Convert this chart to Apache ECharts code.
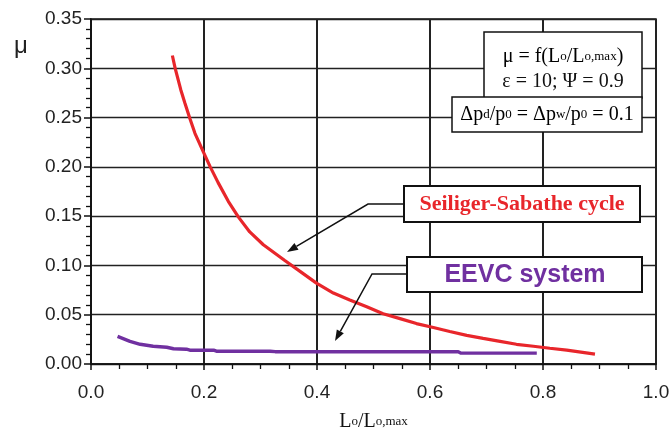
<!DOCTYPE html>
<html><head><meta charset="utf-8">
<script src="https://cdn.jsdelivr.net/npm/echarts@6/dist/echarts.min.js"></script>
<style>html,body{margin:0;padding:0;background:#fff}#c{width:672px;height:435px}</style>
</head><body><div id="c"></div>
<script>
// Seiliger-Sabathe cycle
const redX = [0.144,0.149,0.159,0.166,0.175,0.184,0.199,0.211,0.225,0.243,0.261,0.281,0.305,0.343,0.370,0.399,0.429,0.458,0.488,0.517,0.547,0.576,0.606,0.635,0.665,0.694,0.724,0.753,0.783,0.812,0.842,0.892];
const redY = [0.313,0.300,0.278,0.265,0.249,0.234,0.215,0.200,0.184,0.165,0.149,0.134,0.121,0.105,0.094,0.082,0.072,0.065,0.058,0.051,0.046,0.041,0.037,0.033,0.029,0.026,0.023,0.020,0.018,0.016,0.014,0.010];
// EEVC system
const purpleX = [0.047,0.069,0.087,0.110,0.134,0.146,0.169,0.175,0.217,0.222,0.317,0.326,0.650,0.655,0.789];
const purpleY = [0.028,0.023,0.020,0.018,0.017,0.0155,0.015,0.014,0.014,0.013,0.013,0.0125,0.0125,0.011,0.011];
const xTicks = [0.0,0.2,0.4,0.6,0.8,1.0];
const yTicks = [0.00,0.05,0.10,0.15,0.20,0.25,0.30,0.35];

const chart = echarts.init(document.getElementById('c'), null, {renderer:'canvas'});
const zip = (a,b)=>a.map((v,i)=>[v,b[i]]);
const serif = 'Liberation Serif';
const sans = 'Liberation Sans';

function arrow(pts, color){
  const n = pts.length, p = pts[n-1], q = pts[n-2];
  const ang = Math.atan2(p[1]-q[1], p[0]-q[0]);
  const L = 11, W = 4;
  const bx = p[0]-L*Math.cos(ang), by = p[1]-L*Math.sin(ang);
  const nx = -Math.sin(ang)*W, ny = Math.cos(ang)*W;
  const line = pts.slice(0,n-1).concat([[bx,by]]);
  return [
    {type:'polyline', z:50, shape:{points:line}, style:{stroke:color, lineWidth:1.5, fill:null}},
    {type:'polygon', z:50, shape:{points:[p,[bx+nx,by+ny],[bx-nx,by-ny]]}, style:{fill:color}}
  ];
}
function box(x,y,w,h,lw){
  return {type:'rect', z:40, shape:{x:x,y:y,width:w,height:h}, style:{fill:'#fff', stroke:'#111', lineWidth:lw}};
}
const subRich = {
  n:{fontFamily:serif, fontSize:20, color:'#111', lineHeight:22},
  s:{fontFamily:serif, fontSize:13, color:'#111', lineHeight:8}
};

chart.setOption({
  animation:false,
  backgroundColor:'#fff',
  grid:{left:91, right:16, top:19, bottom:71, show:true, borderColor:'#111', borderWidth:1.5, backgroundColor:'transparent', containLabel:false, outerBoundsMode:'none'},
  xAxis:{
    type:'value', min:xTicks[0], max:xTicks[xTicks.length-1], interval:0.2,
    name:'{n|L}{s|o}{n|/L}{s|o,max}', nameLocation:'middle', nameGap:47,
    nameTextStyle:{rich:subRich},
    axisLine:{show:true, onZero:false, lineStyle:{color:'#111', width:1.5}},
    axisTick:{show:true, length:6, lineStyle:{color:'#111', width:1.5}},
    minorTick:{show:true, splitNumber:4, length:5, lineStyle:{color:'#111', width:1.3}},
    splitLine:{show:true, lineStyle:{color:'#222', width:2}},
    axisLabel:{fontFamily:sans, fontSize:19, color:'#222', margin:19, formatter:v=>v.toFixed(1)}
  },
  yAxis:{
    type:'value', min:yTicks[0], max:yTicks[yTicks.length-1], interval:0.05,
    axisLine:{show:true, onZero:false, lineStyle:{color:'#111', width:1.5}},
    axisTick:{show:true, length:7, lineStyle:{color:'#111', width:1.5}},
    minorTick:{show:true, splitNumber:5, length:5, lineStyle:{color:'#111', width:1.3}},
    splitLine:{show:true, lineStyle:{color:'#222', width:1.3}},
    axisLabel:{fontFamily:sans, fontSize:19, color:'#222', margin:9, formatter:v=>v.toFixed(2)}
  },
  series:[
    {name:'Seiliger-Sabathe cycle', type:'line', data:zip(redX,redY), showSymbol:false, z:5,
     lineStyle:{color:'#e8262b', width:3.2}},
    {name:'EEVC system', type:'line', data:zip(purpleX,purpleY), showSymbol:false, z:5,
     lineStyle:{color:'#7030a0', width:3.4}}
  ],
  graphic:[
    {type:'text', left:14, top:34, z:60, style:{text:'μ', fontFamily:sans, fontSize:24, fill:'#222'}},
    box(484,32,158,66,1.5),
    box(452,97,190,35,1.5),
    {type:'text', z:60, x:563, y:57, style:{text:'{n|μ = f(L}{s|o}{n|/L}{s|o,max}{n|)}', rich:subRich, align:'center', verticalAlign:'middle'}},
    {type:'text', z:60, x:563, y:82, style:{text:'ε = 10; Ψ = 0.9', fontFamily:serif, fontSize:20, fill:'#111', align:'center', verticalAlign:'middle'}},
    {type:'text', z:60, x:547, y:115, style:{text:'{n|Δp}{s|d}{n|/p}{s|0}{n| = Δp}{s|w}{n|/p}{s|0}{n| = 0.1}', rich:subRich, align:'center', verticalAlign:'middle'}},
    box(404,186,236,36,2),
    {type:'text', z:60, x:522, y:204, style:{text:'Seiliger-Sabathe cycle', fontFamily:serif, fontWeight:'bold', fontSize:22, fill:'#e8262b', align:'center', verticalAlign:'middle'}},
    box(407,257,235,35,2),
    {type:'text', z:60, x:525, y:275, style:{text:'EEVC system', fontFamily:sans, fontWeight:'bold', fontSize:25, fill:'#7030a0', align:'center', verticalAlign:'middle'}},
    ...arrow([[404,204],[368,204],[287,252]], '#111'),
    ...arrow([[407,274],[372,274],[335,341]], '#111')
  ]
});
</script></body></html>
